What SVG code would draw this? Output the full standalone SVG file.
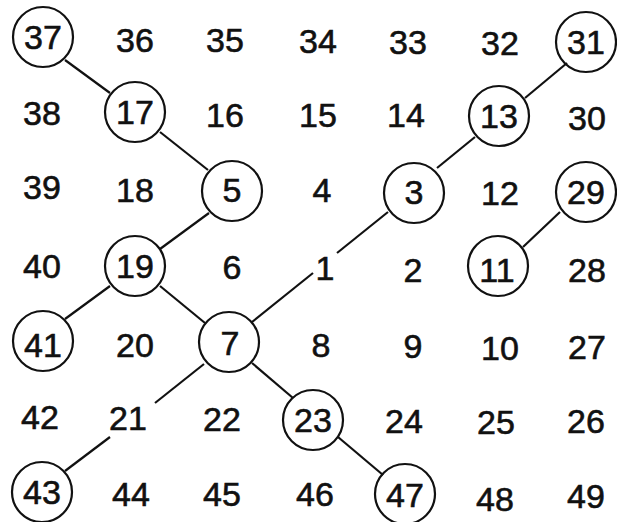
<svg xmlns="http://www.w3.org/2000/svg" width="617" height="522" viewBox="0 0 617 522">
<style>
text{font-family:"Liberation Sans",Arial,sans-serif;font-size:34px;fill:#111;stroke:#111;stroke-width:0.6;text-anchor:middle}
circle{fill:none;stroke:#111;stroke-width:2.2}
#edges line{stroke:#111;stroke-width:2.2}
</style>
<rect width="617" height="522" fill="#fff"/>
<g id="edges">
<line x1="65" y1="60" x2="110" y2="93"/>
<line x1="160" y1="132" x2="208" y2="170"/>
<line x1="209" y1="213" x2="160" y2="249"/>
<line x1="110" y1="286" x2="65" y2="319"/>
<line x1="160" y1="286" x2="205" y2="323"/>
<line x1="252" y1="322" x2="313" y2="273"/>
<line x1="337" y1="253" x2="388" y2="212"/>
<line x1="437" y1="168" x2="475" y2="137"/>
<line x1="525" y1="98" x2="567" y2="63"/>
<line x1="560" y1="212" x2="523" y2="247"/>
<line x1="204" y1="364" x2="155" y2="403"/>
<line x1="110" y1="437" x2="65" y2="471"/>
<line x1="252" y1="363" x2="293" y2="398"/>
<line x1="338" y1="437" x2="383" y2="475"/>
</g>
<g id="n37"><circle cx="43" cy="37" r="30"/><text x="43" y="49">37</text></g>
<g id="n36"><text x="135" y="52">36</text></g>
<g id="n35"><text x="225" y="52">35</text></g>
<g id="n34"><text x="318" y="53">34</text></g>
<g id="n33"><text x="408" y="54">33</text></g>
<g id="n32"><text x="500" y="55">32</text></g>
<g id="n31"><circle cx="586" cy="42" r="30"/><text x="586" y="54">31</text></g>
<g id="n38"><text x="42" y="125">38</text></g>
<g id="n17"><circle cx="135" cy="112" r="30"/><text x="135" y="124">17</text></g>
<g id="n16"><text x="225" y="127">16</text></g>
<g id="n15"><text x="318" y="127">15</text></g>
<g id="n14"><text x="406" y="127">14</text></g>
<g id="n13"><circle cx="499" cy="116" r="30"/><text x="499" y="128">13</text></g>
<g id="n30"><text x="587" y="130">30</text></g>
<g id="n39"><text x="42" y="199">39</text></g>
<g id="n18"><text x="135" y="202">18</text></g>
<g id="n5"><circle cx="232" cy="191" r="30"/><text x="232" y="202">5</text></g>
<g id="n4"><text x="322" y="202">4</text></g>
<g id="n3"><circle cx="414" cy="193" r="30"/><text x="414" y="204">3</text></g>
<g id="n12"><text x="500" y="205">12</text></g>
<g id="n29"><circle cx="586" cy="192" r="30"/><text x="586" y="204">29</text></g>
<g id="n40"><text x="42" y="278">40</text></g>
<g id="n19"><circle cx="135" cy="266" r="30"/><text x="135" y="278">19</text></g>
<g id="n6"><text x="232" y="279">6</text></g>
<g id="n1"><text x="325" y="280">1</text></g>
<g id="n2"><text x="413" y="282">2</text></g>
<g id="n11"><circle cx="498" cy="266" r="30"/><text x="497" y="282">11</text></g>
<g id="n28"><text x="587" y="282">28</text></g>
<g id="n41"><circle cx="43" cy="341" r="30"/><text x="43" y="357">41</text></g>
<g id="n20"><text x="135" y="357">20</text></g>
<g id="n7"><circle cx="229" cy="342" r="30"/><text x="230" y="355">7</text></g>
<g id="n8"><text x="321" y="357">8</text></g>
<g id="n9"><text x="413" y="358">9</text></g>
<g id="n10"><text x="500" y="360">10</text></g>
<g id="n27"><text x="587" y="359">27</text></g>
<g id="n42"><text x="40" y="429">42</text></g>
<g id="n21"><text x="128" y="430">21</text></g>
<g id="n22"><text x="222" y="431">22</text></g>
<g id="n23"><circle cx="313" cy="420" r="30"/><text x="313" y="432">23</text></g>
<g id="n24"><text x="404" y="433">24</text></g>
<g id="n25"><text x="496" y="434">25</text></g>
<g id="n26"><text x="586" y="433">26</text></g>
<g id="n43"><circle cx="42" cy="492" r="30"/><text x="42" y="504">43</text></g>
<g id="n44"><text x="131" y="506">44</text></g>
<g id="n45"><text x="222" y="506">45</text></g>
<g id="n46"><text x="315" y="506">46</text></g>
<g id="n47"><circle cx="405" cy="494" r="30"/><text x="405" y="507">47</text></g>
<g id="n48"><text x="495" y="511">48</text></g>
<g id="n49"><text x="586" y="508">49</text></g>
</svg>
